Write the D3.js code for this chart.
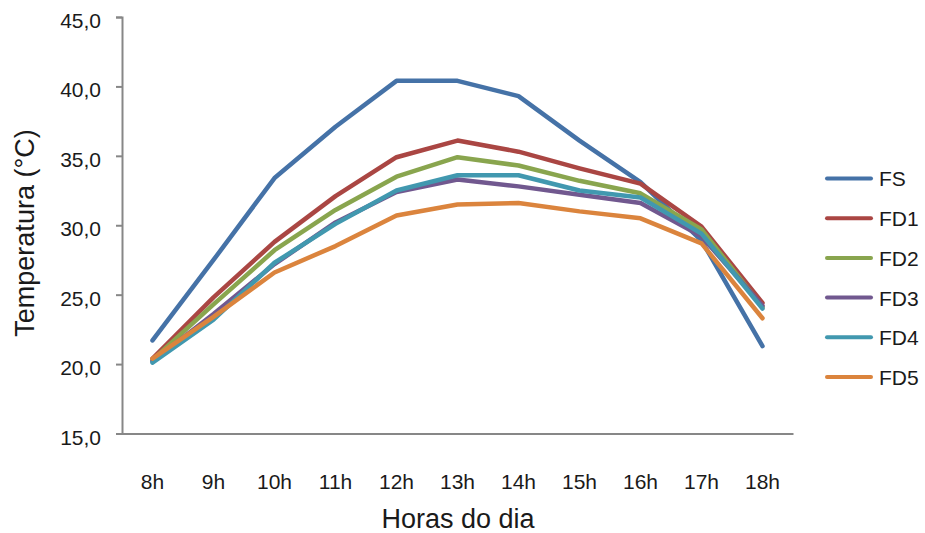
<!DOCTYPE html>
<html>
<head>
<meta charset="utf-8">
<script src="https://cdn.jsdelivr.net/npm/d3@7"></script>
<style>
  html, body { margin: 0; padding: 0; background: #fff; }
  svg { display: block; font-family: "Liberation Sans", Arial, sans-serif; }
</style>
</head>
<body>
<svg id="chart" width="925" height="533"></svg>
<script>
const categories = ["8h", "9h", "10h", "11h", "12h", "13h", "14h", "15h", "16h", "17h", "18h"];
const seriesNames = ["FS", "FD1", "FD2", "FD3", "FD4", "FD5"];
const FS  = [21.7, 27.5, 33.4, 37.1, 40.4, 40.4, 39.3, 36.1, 33.1, 28.9, 21.3];
const FD1 = [20.4, 24.8, 28.8, 32.1, 34.9, 36.1, 35.3, 34.1, 33.0, 29.9, 24.4];
const FD2 = [20.3, 24.3, 28.2, 31.1, 33.5, 34.9, 34.3, 33.2, 32.3, 29.7, 24.1];
const FD3 = [20.2, 23.6, 27.2, 30.2, 32.4, 33.3, 32.8, 32.2, 31.6, 29.2, 24.2];
const FD4 = [20.1, 23.2, 27.3, 30.1, 32.5, 33.6, 33.6, 32.5, 32.0, 29.4, 24.0];
const FD5 = [20.4, 23.4, 26.6, 28.5, 30.7, 31.5, 31.6, 31.0, 30.5, 28.7, 23.3];
const seriesValues = [FS, FD1, FD2, FD3, FD4, FD5];
const colors = ["#4572A7", "#AA4643", "#89A54E", "#71588F", "#4198AF", "#DB843D"];
const yTicks = [15, 20, 25, 30, 35, 40, 45];
const yTitle = "Temperatura (°C)";
const xTitle = "Horas do dia";

const svg = d3.select("#chart");
const plotLeft = 122, plotRight = 793, plotTop = 17, plotBottom = 433.5;

const x = d3.scaleBand().domain(categories).range([plotLeft, plotRight]).padding(0);
const y = d3.scaleLinear().domain([15, 45]).range([plotBottom, plotTop]);
const cx = d => x(d) + x.bandwidth() / 2;

const axisColor = "#878787";
const textColor = "#1a1a1a";

// Y axis
const yAxis = svg.append("g").attr("transform", `translate(${plotLeft},0)`)
  .call(d3.axisLeft(y).tickValues(yTicks).tickSize(6).tickPadding(15)
    .tickFormat(v => d3.format(".1f")(v).replace(".", ",")));
yAxis.select(".domain").attr("stroke", axisColor).attr("stroke-width", 2);
yAxis.selectAll(".tick line").attr("stroke", axisColor).attr("stroke-width", 2);
yAxis.selectAll(".tick text").attr("fill", textColor).attr("font-size", 21)
  .attr("font-family", "Liberation Sans, Arial, sans-serif").attr("dy", "0.5em");

// X axis
const xAxis = svg.append("g").attr("transform", `translate(0,${plotBottom})`)
  .call(d3.axisBottom(x).tickSize(0).tickPadding(41));
xAxis.select(".domain").attr("stroke", axisColor).attr("stroke-width", 2);
xAxis.selectAll(".tick text").attr("fill", textColor).attr("font-size", 21)
  .attr("font-family", "Liberation Sans, Arial, sans-serif").attr("dy", "0.71em");

// Lines
const line = d3.line().x((d, i) => cx(categories[i])).y(d => y(d));
seriesValues.forEach((vals, k) => {
  svg.append("path")
    .datum(vals)
    .attr("d", line)
    .attr("fill", "none")
    .attr("stroke", colors[k])
    .attr("stroke-width", 4.5)
    .attr("stroke-linejoin", "round")
    .attr("stroke-linecap", "round");
});

// Titles
svg.append("text")
  .attr("transform", `translate(34,233) rotate(-90)`)
  .attr("text-anchor", "middle")
  .attr("font-size", 27)
  .attr("fill", textColor)
  .text(yTitle);

svg.append("text")
  .attr("x", 458).attr("y", 528)
  .attr("text-anchor", "middle")
  .attr("font-size", 27)
  .attr("fill", textColor)
  .text(xTitle);

// Legend
const legend = svg.append("g");
seriesNames.forEach((name, k) => {
  const ly = 178.5 + k * 39.7;
  legend.append("line")
    .attr("x1", 827).attr("x2", 871).attr("y1", ly).attr("y2", ly)
    .attr("stroke", colors[k]).attr("stroke-width", 4).attr("stroke-linecap", "round");
  legend.append("text")
    .attr("x", 879).attr("y", ly).attr("dy", "0.38em")
    .attr("font-size", 21).attr("fill", textColor)
    .text(name);
});
</script>
</body>
</html>
